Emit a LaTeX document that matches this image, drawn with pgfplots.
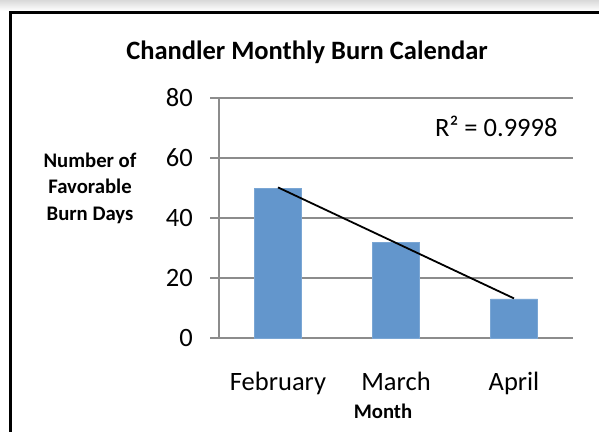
\documentclass[border=0pt]{standalone}
\usepackage{pgfplots}
\pgfplotsset{compat=1.18}
\usepackage{fontspec}
\setmainfont{Carlito}
\definecolor{barblue}{RGB}{99,150,204}
\definecolor{gridgray}{RGB}{140,140,140}
\begin{document}
\begin{tikzpicture}
\path[use as bounding box, fill=white] (0bp,0bp) rectangle (599bp,432bp);
\shade[top color=black!15, bottom color=white] (0bp,421bp) rectangle (599bp,432bp);
\draw[line width=3bp, black] (10bp,0bp) -- (10bp,419bp) -- (599bp,419bp);
\begin{axis}[
  at={(219bp,94bp)}, anchor=south west,
  scale only axis, width=354bp, height=240bp,
  xmin=0.5, xmax=3.5, ymin=0, ymax=80,
  axis x line*=bottom, axis y line*=left,
  axis line style={gridgray, line width=1.5bp, -},
  ytick={0,20,40,60,80},
  ymajorgrids, grid style={gridgray, line width=1.5bp},
  tick align=outside,
  major tick length=9bp,
  tick style={gridgray, line width=1.5bp},
  xtick={1,2,3},
  xticklabels={February,March,April},
  xtick style={draw=none},
  minor xtick={0.5,1.5,2.5,3.5},
  minor tick length=7bp,
  minor tick style={gridgray, line width=1.5bp},
  xticklabel style={anchor=base, inner sep=0pt, yshift=-43bp, font=\fontsize{26.5bp}{30bp}\selectfont},
  yticklabel style={anchor=east, inner sep=0pt, xshift=-17bp, font=\fontsize{26.5bp}{30bp}\selectfont},
  /pgf/number format/assume math mode=true,
  clip=false,
]
\addplot[ybar, bar width=47bp, fill=barblue, draw=barblue!85!white] coordinates {(1,50) (2,32) (3,13)};
\addplot[black, line width=1.8bp] coordinates {(1,50.2) (3,13.2)};
\end{axis}
\node[anchor=base, inner sep=0pt, font=\bfseries\fontsize{26.5bp}{30bp}\selectfont] at (307bp,372bp) {Chandler Monthly Burn Calendar};
\node[anchor=base west, inner sep=0pt, font=\fontsize{26.5bp}{30bp}\selectfont] at (435bp,295bp) {R² = 0.9998};
\node[anchor=base, inner sep=0pt, font=\bfseries\fontsize{20.7bp}{24bp}\selectfont] at (383bp,13.4bp) {Month};
\node[align=center, inner sep=0pt, font=\bfseries\fontsize{20.7bp}{26.5bp}\selectfont] at (90bp,244bp) {Number of\\Favorable\\Burn Days};
\end{tikzpicture}
\end{document}
